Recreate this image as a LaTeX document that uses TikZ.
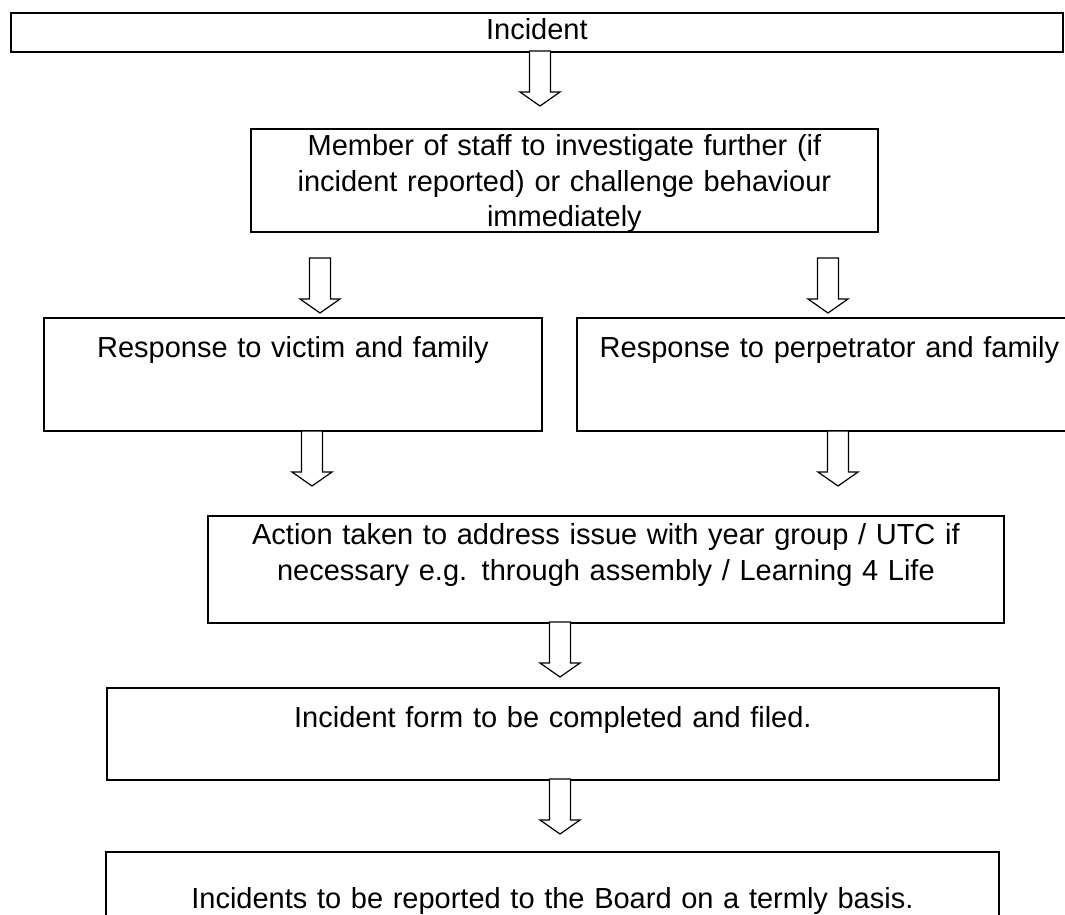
\documentclass[tikz,border=0pt]{standalone}
\usepackage{fontspec}
\setmainfont{Liberation Sans}
\tikzset{
  box/.style={draw, line width=1.8pt, inner sep=0pt, align=center, anchor=north west,
    font=\fontsize{29}{35.5}\selectfont},
  blockarrow/.pic={
    \draw[line width=1.2pt, fill=white, line join=miter]
      (-10.5,0) -- (-10.5,41) -- (-20,41) -- (0,55) -- (20,41) -- (10.5,41) -- (10.5,0) -- cycle;
  }
}
\begin{document}
\begin{tikzpicture}[x=1pt, y=-1pt]
\useasboundingbox (0,0) rectangle (1065,915);
\clip (0,0) rectangle (1065,915);

\node[box, text width=1052pt, text height=27pt, text depth=12pt] (incident) at (10,12) {Incident};
\node[box, text width=627pt, text height=27pt, text depth=76pt] (staff) at (250,128)
  {Member of staff to investigate further (if\\ incident reported) or challenge behaviour\\ immediately};
\node[box, text width=498pt, text height=40pt, text depth=73pt] (victim) at (43,317)
  {Response to victim and family};
\node[box, text width=505pt, text height=40pt, text depth=73pt] (perp) at (576,317)
  {Response to perpetrator and family};
\node[box, text width=796pt, text height=29pt, text depth=78pt] (action) at (207,515)
  {Action taken to address issue with year group / UTC if\\ necessary e.g. through assembly / Learning 4 Life};
\node[box, text width=892pt, text height=40pt, text depth=52pt] (form) at (106,687)
  {Incident form to be completed and filed.};
\node[box, text width=893pt, text height=57pt, text depth=100pt] (board) at (105,851)
  {Incidents to be reported to the Board on a termly basis.};

\pic at (540,51) {blockarrow};
\pic at (320,258) {blockarrow};
\pic at (828,258) {blockarrow};
\pic at (312,431) {blockarrow};
\pic at (838,431) {blockarrow};
\pic at (560,622) {blockarrow};
\pic at (560,779) {blockarrow};
\end{tikzpicture}
\end{document}
